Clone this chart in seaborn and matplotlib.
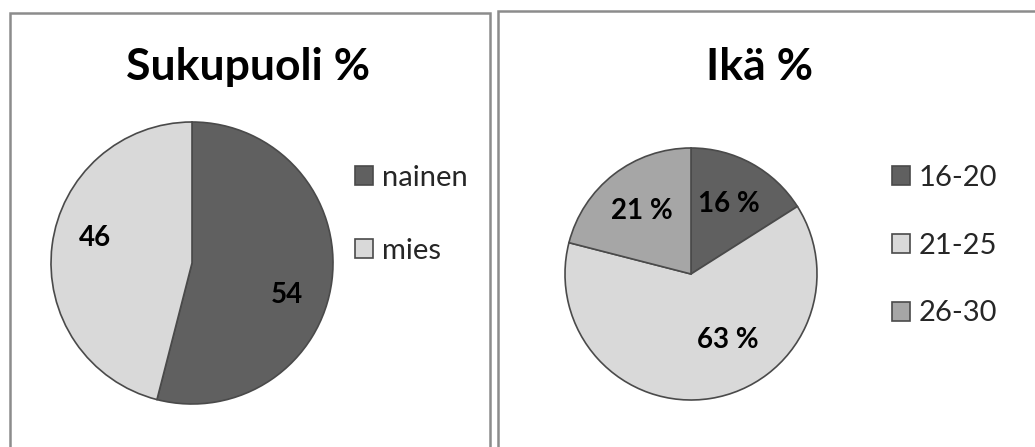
import matplotlib
matplotlib.use("Agg")
import matplotlib.pyplot as plt
from matplotlib.patches import Rectangle
import seaborn as sns

# ---- data ----
gender_labels = ["nainen", "mies"]
gender_values = [54, 46]
gender_title = "Sukupuoli %"

age_labels = ["16-20", "21-25", "26-30"]
age_values = [16, 63, 21]
age_title = "Ikä %"

sns.set_theme(style="white")
plt.rcParams["font.family"] = ["Lato", "DejaVu Sans"]

W, H = 1035, 447
fig = plt.figure(figsize=(W / 100, H / 100), dpi=100)
fig.patch.set_facecolor("white")

edge = "#4a4a4a"
dark, light, mid = "#606060", "#d9d9d9", "#a6a6a6"


def px_axes(cx, cy, r):
    return fig.add_axes([(cx - r) / W, 1 - (cy + r) / H, 2 * r / W, 2 * r / H])


# panel borders
for (x0, y0, x1, y1) in [(10, 13, 490, 460), (498, 11, 1045, 460)]:
    fig.add_artist(Rectangle((x0 / W, 1 - y1 / H), (x1 - x0) / W, (y1 - y0) / H,
                             transform=fig.transFigure, fill=False,
                             edgecolor="#8c8c8c", linewidth=1.8))

# ---- left pie ----
ax1 = px_axes(192, 263, 141)
w1, _, t1 = ax1.pie(gender_values, colors=[dark, light], startangle=90, counterclock=False,
                    autopct=lambda p: f"{p:.0f}", pctdistance=0.71,
                    wedgeprops=dict(edgecolor=edge, linewidth=1.2),
                    textprops=dict(fontsize=20, fontweight="bold", color="black"))
ax1.set_xlim(-1, 1); ax1.set_ylim(-1, 1)
t1[0].set_position((0.67, -0.23))
t1[1].set_position((-0.69, 0.18))
fig.text(248 / W, 1 - 67 / H, gender_title, ha="center", va="center",
         fontsize=32, fontweight="bold", color="black")
fig.legend(w1, gender_labels, loc="upper left", bbox_to_anchor=(355 / W, 1 - 165 / H),
           frameon=False, fontsize=21, handlelength=0.62, handleheight=0.62,
           handletextpad=0.3, labelspacing=1.6, borderpad=0, borderaxespad=0)

# ---- right pie ----
ax2 = px_axes(691, 274, 126)
w2, _, t2 = ax2.pie(age_values, colors=[dark, light, mid], startangle=90, counterclock=False,
                    autopct=lambda p: f"{p:.0f} %", pctdistance=0.63,
                    wedgeprops=dict(edgecolor=edge, linewidth=1.2),
                    textprops=dict(fontsize=20, fontweight="bold", color="black"))
ax2.set_xlim(-1, 1); ax2.set_ylim(-1, 1)
t2[1].set_position((0.29, -0.52))
fig.text(760 / W, 1 - 67 / H, age_title, ha="center", va="center",
         fontsize=32, fontweight="bold", color="black")
fig.legend(w2, age_labels, loc="upper left", bbox_to_anchor=(892 / W, 1 - 165 / H),
           frameon=False, fontsize=21, handlelength=0.62, handleheight=0.62,
           handletextpad=0.3, labelspacing=1.43, borderpad=0, borderaxespad=0)

fig.savefig("out.png", dpi=100, facecolor="white")
